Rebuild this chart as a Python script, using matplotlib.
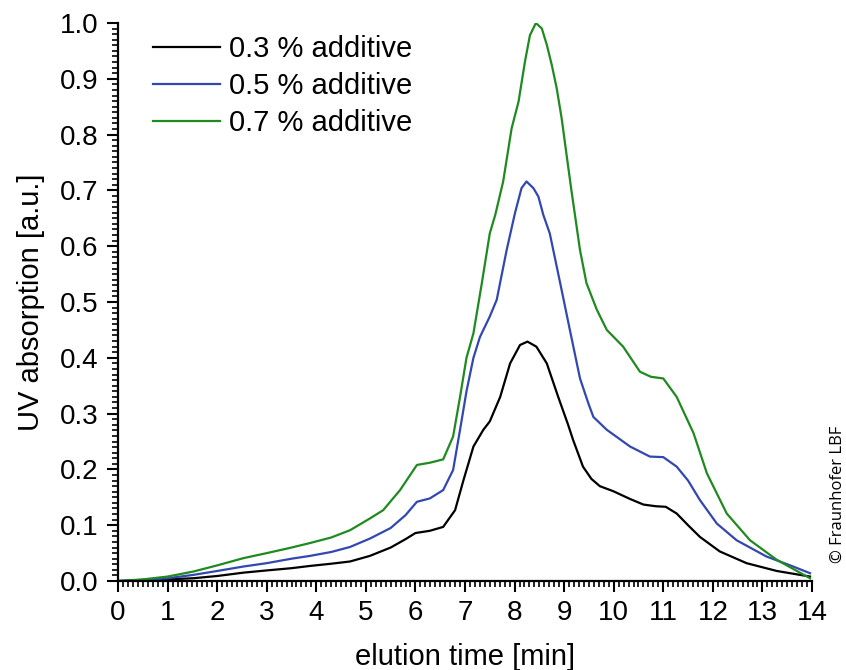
import matplotlib.pyplot as plt
from matplotlib.ticker import MultipleLocator

# elution time [min] and UV absorption for each additive level
t_03 = [0, 0.5, 1.0, 1.52, 2.0, 2.53, 3.0, 3.5, 3.87, 4.3, 4.68, 5.08, 5.5, 5.8, 6.0, 6.29, 6.56,
        6.8, 6.97, 7.17, 7.37, 7.5, 7.71, 7.91, 8.11, 8.26, 8.44, 8.65, 8.88, 9.08, 9.18, 9.38,
        9.55, 9.72, 9.99, 10.33, 10.6, 10.85, 11.05, 11.27, 11.5, 11.74, 12.14, 12.68, 13.29, 13.96]
y_03 = [0, 0.001, 0.003, 0.005, 0.009, 0.015, 0.019, 0.023, 0.027, 0.031, 0.035, 0.045, 0.06, 0.075, 0.086, 0.09, 0.097,
        0.127, 0.181, 0.241, 0.271, 0.286, 0.33, 0.39, 0.423, 0.429, 0.42, 0.39, 0.33, 0.28, 0.253, 0.205,
        0.183, 0.17, 0.161, 0.147, 0.137, 0.134, 0.133, 0.121, 0.1, 0.079, 0.053, 0.032, 0.018, 0.008]

t_05 = [0, 0.5, 1.0, 1.52, 2.0, 2.53, 3.0, 3.5, 3.87, 4.3, 4.68, 5.08, 5.5, 5.8, 6.03, 6.29, 6.56,
        6.76, 6.9, 7.03, 7.17, 7.3, 7.5, 7.64, 7.84, 8.01, 8.14, 8.24, 8.38, 8.48, 8.58, 8.71,
        8.92, 9.12, 9.32, 9.49, 9.59, 9.86, 10.33, 10.73, 11.0, 11.27, 11.5, 11.74, 12.08, 12.48,
        13.08, 13.62, 13.96]
y_05 = [0, 0.002, 0.005, 0.011, 0.018, 0.026, 0.032, 0.04, 0.045, 0.052, 0.061, 0.076, 0.095, 0.118, 0.142, 0.148, 0.163,
        0.199, 0.271, 0.34, 0.40, 0.437, 0.474, 0.504, 0.593, 0.66, 0.704, 0.716, 0.704, 0.689, 0.656, 0.623,
        0.534, 0.448, 0.363, 0.318, 0.294, 0.271, 0.241, 0.223, 0.222, 0.205, 0.18, 0.145, 0.103, 0.073,
        0.044, 0.026, 0.014]

t_07 = [0, 0.51, 1.0, 1.52, 2.0, 2.53, 3.0, 3.5, 3.87, 4.3, 4.68, 5.08, 5.35, 5.69, 6.03, 6.29, 6.56,
        6.76, 6.9, 7.03, 7.17, 7.34, 7.5, 7.61, 7.77, 7.94, 8.08, 8.21, 8.31, 8.43, 8.55, 8.65,
        8.75, 8.85, 8.95, 9.05, 9.15, 9.32, 9.45, 9.66, 9.86, 10.19, 10.53, 10.75, 11.0, 11.27,
        11.61, 11.88, 12.28, 12.75, 13.29, 13.96]
y_07 = [0, 0.003, 0.008, 0.017, 0.028, 0.041, 0.05, 0.06, 0.068, 0.078, 0.091, 0.112, 0.127, 0.163, 0.208, 0.212, 0.218,
        0.259, 0.33, 0.40, 0.444, 0.534, 0.623, 0.656, 0.716, 0.811, 0.859, 0.931, 0.978, 1.0, 0.99, 0.961,
        0.925, 0.883, 0.829, 0.763, 0.698, 0.593, 0.534, 0.486, 0.45, 0.42, 0.375, 0.366, 0.363, 0.33,
        0.265, 0.193, 0.121, 0.073, 0.038, 0.005]

labels = ['0.3 % additive', '0.5 % additive', '0.7 % additive']

plt.rcParams['font.family'] = ['Liberation Sans', 'DejaVu Sans']

fig = plt.figure(figsize=(8.46, 6.7), dpi=100)
ax = fig.add_axes([0.1395, 0.1328, 0.8203, 0.8329])

ax.plot(t_03, y_03, color='black', linewidth=1.6, label=labels[0])
ax.plot(t_05, y_05, color='#3347b0', linewidth=1.6, label=labels[1])
ax.plot(t_07, y_07, color='#1f8a1f', linewidth=1.6, label=labels[2])

ax.set_xlim(0, 14)
ax.set_ylim(0, 1.0)
ax.xaxis.set_major_locator(MultipleLocator(1))
ax.xaxis.set_minor_locator(MultipleLocator(0.1))
ax.yaxis.set_major_locator(MultipleLocator(0.1))
ax.yaxis.set_minor_locator(MultipleLocator(0.01))
ax.yaxis.set_major_formatter(plt.FuncFormatter(lambda v, p: '%.1f' % v))

for s in ['top', 'right']:
    ax.spines[s].set_visible(False)
for s in ['left', 'bottom']:
    ax.spines[s].set_linewidth(1.6)

ax.tick_params(which='major', direction='out', length=8, width=1.5, labelsize=20, pad=6)
ax.tick_params(which='minor', direction='out', length=4, width=1.2)

ax.set_xlabel('elution time [min]', fontsize=21, labelpad=12)
ax.set_ylabel('UV absorption [a.u.]', fontsize=21, labelpad=11)

ax.legend(loc='upper left', bbox_to_anchor=(0.013, 1.025), frameon=False, fontsize=21,
          handlelength=2.3, handletextpad=0.3, labelspacing=0.31)

fig.text(0.99, 0.262, '\u00a9 Fraunhofer LBF', rotation=90, fontsize=12,
         family=['Open Sans', 'DejaVu Sans'], ha='center', va='center')

plt.savefig('out.png', dpi=100)
